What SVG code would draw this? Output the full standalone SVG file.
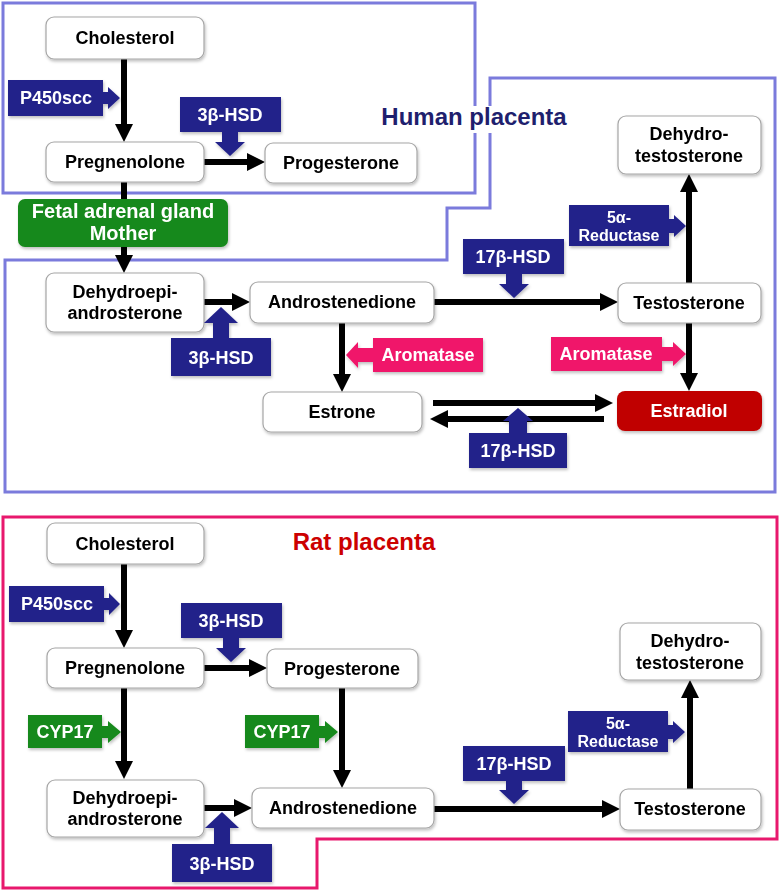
<svg xmlns="http://www.w3.org/2000/svg" width="780" height="891" viewBox="0 0 780 891">
<defs>
<style>
.node rect{fill:#fff;stroke:#a6a6a6;stroke-width:1.2}
.t{font-family:"Liberation Sans",Arial,sans-serif;font-weight:bold;font-size:18px;text-anchor:middle;fill:#000}
.w{fill:#fff}
.s16{font-size:16px}
.s20{font-size:20px}
.conn line{stroke:#000;stroke-width:6;marker-end:url(#ah)}
.blue{fill:#22228a}
.pink{fill:#f0166a}
.green{fill:#15891a}
.title{font-family:"Liberation Sans",Arial,sans-serif;font-weight:bold;font-size:24px;text-anchor:middle}
</style>
<marker id="ah" markerUnits="userSpaceOnUse" markerWidth="18" markerHeight="18" refX="2" refY="9" orient="auto">
<path d="M0,0 L18,9 L0,18 Z" fill="#000"/>
</marker>
<filter id="sh" x="-10%" y="-10%" width="130%" height="140%">
<feDropShadow dx="1" dy="2" stdDeviation="1.5" flood-color="#000" flood-opacity="0.25"/>
</filter>
</defs>
<rect width="780" height="891" fill="#fff"/>

<g id="borders" fill="none" stroke-width="3">
<rect x="3" y="3" width="472" height="190" stroke="#7b7bdc"/>
<path d="M490,78 H775 V492 H5 V260 H447 V208 H490 Z" stroke="#7b7bdc"/>
<path d="M3,517 H777 V839 H317 V888 H3 Z" stroke="#e8186d"/>
</g>

<g id="titles">
<rect x="377" y="106" width="196" height="27" fill="#fff"/>
<text class="title" x="474" y="125" fill="#1f1f6e">Human placenta</text>
<text class="title" x="364" y="550" fill="#cc0000">Rat placenta</text>
</g>

<g id="connectors" class="conn">
<!-- human -->
<line x1="124" y1="59" x2="124" y2="126"/>
<line x1="204" y1="162" x2="249" y2="162"/>
<line x1="124" y1="182" x2="124" y2="257"/>
<line x1="204" y1="302" x2="234" y2="302"/>
<line x1="342" y1="323" x2="342" y2="376"/>
<line x1="434" y1="302" x2="602" y2="302"/>
<line x1="689" y1="283" x2="689" y2="190"/>
<line x1="689" y1="323" x2="689" y2="375"/>
<line x1="433" y1="403" x2="597" y2="403"/>
<line x1="604" y1="419" x2="446" y2="419"/>
<!-- rat -->
<line x1="124" y1="564" x2="124" y2="632"/>
<line x1="204" y1="668" x2="251" y2="668"/>
<line x1="124" y1="688" x2="124" y2="763"/>
<line x1="342" y1="688" x2="342" y2="772"/>
<line x1="204" y1="808" x2="236" y2="808"/>
<line x1="434" y1="809" x2="604" y2="809"/>
<line x1="690" y1="789" x2="690" y2="696"/>
</g>

<g id="human-cholesterol" class="node" filter="url(#sh)"><rect x="46" y="17" width="158" height="42" rx="8"/><text class="t" x="125" y="44">Cholesterol</text></g>
<g id="human-pregnenolone" class="node" filter="url(#sh)"><rect x="46" y="142" width="158" height="40" rx="8"/><text class="t" x="125" y="168">Pregnenolone</text></g>
<g id="human-progesterone" class="node" filter="url(#sh)"><rect x="265" y="143" width="152" height="40" rx="8"/><text class="t" x="341" y="169">Progesterone</text></g>
<g id="human-fetal-adrenal" filter="url(#sh)"><rect x="18" y="199" width="210" height="48" rx="7" fill="#15891a"/><text class="t w s20" x="123" y="218">Fetal adrenal gland</text><text class="t w s20" x="123" y="240">Mother</text></g>
<g id="human-dhea" class="node" filter="url(#sh)"><rect x="46" y="273" width="158" height="59" rx="8"/><text class="t" x="125" y="298">Dehydroepi-</text><text class="t" x="125" y="319">androsterone</text></g>
<g id="human-androstenedione" class="node" filter="url(#sh)"><rect x="250" y="282" width="184" height="41" rx="8"/><text class="t" x="342" y="308">Androstenedione</text></g>
<g id="human-estrone" class="node" filter="url(#sh)"><rect x="263" y="392" width="159" height="40" rx="8"/><text class="t" x="342" y="418">Estrone</text></g>
<g id="human-testosterone" class="node" filter="url(#sh)"><rect x="618" y="283" width="143" height="40" rx="8"/><text class="t" x="689" y="309">Testosterone</text></g>
<g id="human-dht" class="node" filter="url(#sh)"><rect x="618" y="116" width="143" height="58" rx="8"/><text class="t" x="689" y="140">Dehydro-</text><text class="t" x="689" y="162">testosterone</text></g>
<g id="human-estradiol" filter="url(#sh)"><rect x="617" y="391" width="145" height="40" rx="8" fill="#c00000"/><text class="t w" x="689" y="417">Estradiol</text></g>

<g id="rat-cholesterol" class="node" filter="url(#sh)"><rect x="47" y="523" width="157" height="41" rx="8"/><text class="t" x="125" y="550">Cholesterol</text></g>
<g id="rat-pregnenolone" class="node" filter="url(#sh)"><rect x="47" y="648" width="157" height="40" rx="8"/><text class="t" x="125" y="674">Pregnenolone</text></g>
<g id="rat-progesterone" class="node" filter="url(#sh)"><rect x="267" y="649" width="151" height="39" rx="8"/><text class="t" x="342" y="675">Progesterone</text></g>
<g id="rat-dhea" class="node" filter="url(#sh)"><rect x="47" y="780" width="157" height="57" rx="8"/><text class="t" x="125" y="804">Dehydroepi-</text><text class="t" x="125" y="825">androsterone</text></g>
<g id="rat-androstenedione" class="node" filter="url(#sh)"><rect x="252" y="788" width="182" height="40" rx="8"/><text class="t" x="343" y="814">Androstenedione</text></g>
<g id="rat-testosterone" class="node" filter="url(#sh)"><rect x="620" y="789" width="141" height="41" rx="8"/><text class="t" x="690" y="815">Testosterone</text></g>
<g id="rat-dht" class="node" filter="url(#sh)"><rect x="620" y="623" width="141" height="57" rx="8"/><text class="t" x="690" y="647">Dehydro-</text><text class="t" x="690" y="669">testosterone</text></g>

<!-- enzymes human -->
<g id="h-p450scc" filter="url(#sh)"><path class="blue" d="M8,80 H103 V92 H108 V87 L120,98 L108,109 V104 H103 V116 H8 Z"/><text class="t w" x="56" y="104">P450scc</text></g>
<g id="h-3bhsd-top" filter="url(#sh)"><path class="blue" d="M180,97 H281 V132 H238 V142 H245 L230,156 L215,142 H222 V132 H180 Z"/><text class="t w" x="230" y="121">3β-HSD</text></g>
<g id="h-17bhsd-top" filter="url(#sh)"><path class="blue" d="M463,239 H564 V274 H522 V284 H529 L514,298 L499,284 H506 V274 H463 Z"/><text class="t w" x="513" y="263">17β-HSD</text></g>
<g id="h-5ared" filter="url(#sh)"><path class="blue" d="M569,205 H669 V219 H674 V215 L686,226 L674,237 V233 H669 V246 H569 Z"/><text class="t w s16" x="619" y="223">5α-</text><text class="t w s16" x="619" y="241">Reductase</text></g>
<g id="h-3bhsd-low" filter="url(#sh)"><path class="blue" d="M171,376 H271 V338 H229 V323 H238 L221,307 L204,323 H213 V338 H171 Z"/><text class="t w" x="221" y="364">3β-HSD</text></g>
<g id="h-aromatase-left" filter="url(#sh)"><path class="pink" d="M483,338 H373 V348 H358 V342 L346,355 L358,368 V362 H373 V372 H483 Z"/><text class="t w" x="428" y="361">Aromatase</text></g>
<g id="h-aromatase-right" filter="url(#sh)"><path class="pink" d="M551,337 H662 V347 H673 V342 L686,354 L673,366 V361 H662 V371 H551 Z"/><text class="t w" x="606" y="360">Aromatase</text></g>
<g id="h-17bhsd-low" filter="url(#sh)"><path class="blue" d="M469,468 H567 V433 H527 V421 H533 L518,408 L503,421 H509 V433 H469 Z"/><text class="t w" x="518" y="457">17β-HSD</text></g>

<!-- enzymes rat -->
<g id="r-p450scc" filter="url(#sh)"><path class="blue" d="M9,586 H104 V598 H109 V593 L120,604 L109,615 V610 H104 V622 H9 Z"/><text class="t w" x="57" y="610">P450scc</text></g>
<g id="r-3bhsd-top" filter="url(#sh)"><path class="blue" d="M181,603 H282 V638 H239 V648 H246 L231,662 L216,648 H223 V638 H181 Z"/><text class="t w" x="231" y="627">3β-HSD</text></g>
<g id="r-cyp17-left" filter="url(#sh)"><path class="green" d="M28,715 H102 V726 H108 V721 L121,732 L108,743 V738 H102 V748 H28 Z"/><text class="t w" x="65" y="738">CYP17</text></g>
<g id="r-cyp17-right" filter="url(#sh)"><path class="green" d="M245,715 H319 V726 H325 V721 L338,732 L325,743 V738 H319 V748 H245 Z"/><text class="t w" x="282" y="738">CYP17</text></g>
<g id="r-3bhsd-low" filter="url(#sh)"><path class="blue" d="M172,882 H272 V844 H230 V828 H239 L222,812 L205,828 H214 V844 H172 Z"/><text class="t w" x="222" y="870">3β-HSD</text></g>
<g id="r-17bhsd" filter="url(#sh)"><path class="blue" d="M463,746 H565 V781 H522 V790 H529 L514,804 L499,790 H506 V781 H463 Z"/><text class="t w" x="514" y="770">17β-HSD</text></g>
<g id="r-5ared" filter="url(#sh)"><path class="blue" d="M568,711 H668 V725 H673 V721 L685,732 L673,743 V739 H668 V752 H568 Z"/><text class="t w s16" x="618" y="729">5α-</text><text class="t w s16" x="618" y="747">Reductase</text></g>
</svg>
